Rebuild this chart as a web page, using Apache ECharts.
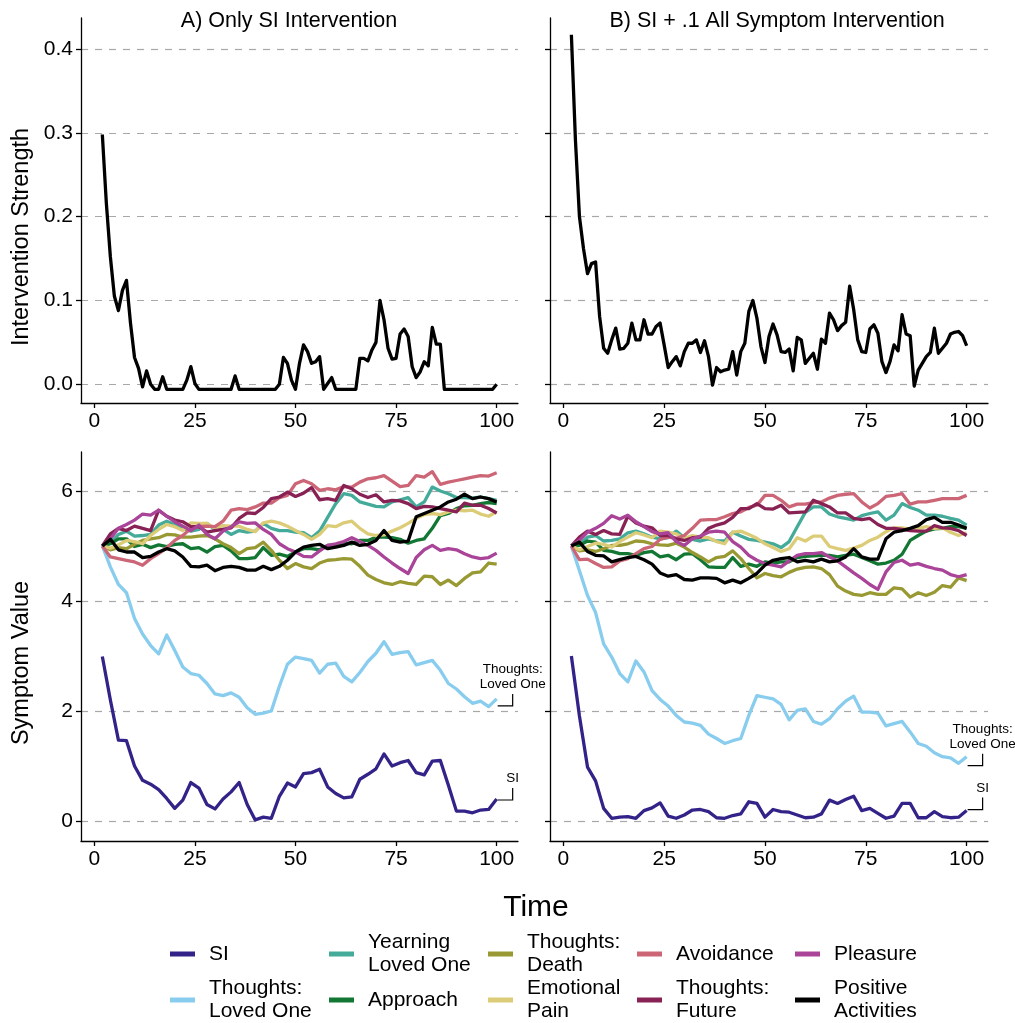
<!DOCTYPE html>
<html><head><meta charset="utf-8">
<script src="https://cdn.jsdelivr.net/npm/echarts@6/dist/echarts.min.js"></script>
<style>html,body{margin:0;padding:0;background:#fff}#c{width:1015px;height:1023px}</style>
</head><body><div id="c"></div>
<script>
// ---------- data ----------
const TIME_FULL = [2,3,4,5,6,7,8,9,10,11,12,13,14,15,16,17,18,19,20,21,22,23,24,25,26,27,28,29,30,31,32,33,34,35,36,37,38,39,40,41,42,43,44,45,46,47,48,49,50,51,52,53,54,55,56,57,58,59,60,61,62,63,64,65,66,67,68,69,70,71,72,73,74,75,76,77,78,79,80,81,82,83,84,85,86,87,88,89,90,91,92,93,94,95,96,97,98,99,100];
const TIME_EVEN = [2,4,6,8,10,12,14,16,18,20,22,24,26,28,30,32,34,36,38,40,42,44,46,48,50,52,54,56,58,60,62,64,66,68,70,72,74,76,78,80,82,84,86,88,90,92,94,96,98,100];
const X_TICKS = [0,25,50,75,100];
const Y_TICKS_TOP = [0,0.1,0.2,0.3,0.4];
const Y_TICKS_BOTTOM = [0,2,4,6];

const INTERVENTION_A = [0.298,0.216,0.152,0.105,0.088,0.112,0.124,0.073,0.032,0.019,
-0.003,0.016,0.000,-0.006,-0.006,0.009,-0.006,-0.006,-0.006,-0.006,
-0.006,0.005,0.021,0.001,-0.006,-0.006,-0.006,-0.006,-0.006,-0.006,
-0.006,-0.006,-0.006,0.010,-0.006,-0.006,-0.006,-0.006,-0.006,-0.006,
-0.006,-0.006,-0.006,-0.006,0.000,0.032,0.025,0.005,-0.006,0.025,
0.047,0.039,0.025,0.027,0.033,-0.006,0.001,0.008,-0.006,-0.006,
-0.006,-0.006,-0.006,-0.006,0.031,0.031,0.028,0.041,0.050,0.100,
0.077,0.043,0.030,0.031,0.060,0.066,0.057,0.021,0.008,0.015,
0.027,0.022,0.068,0.048,0.048,-0.006,-0.006,-0.006,-0.006,-0.006,
-0.006,-0.006,-0.006,-0.006,-0.006,-0.006,-0.006,-0.006,0.000];
const INTERVENTION_B = [0.417,0.292,0.200,0.162,0.132,0.144,0.146,0.081,0.043,0.037,
0.053,0.067,0.042,0.043,0.049,0.073,0.053,0.053,0.077,0.060,
0.060,0.069,0.073,0.047,0.020,0.027,0.033,0.022,0.039,0.049,
0.049,0.053,0.038,0.052,0.033,-0.001,0.020,0.015,0.017,0.018,
0.039,0.011,0.039,0.049,0.087,0.100,0.079,0.045,0.026,0.057,
0.072,0.059,0.039,0.038,0.042,0.016,0.056,0.053,0.025,0.031,
0.037,0.018,0.054,0.049,0.085,0.077,0.064,0.070,0.074,0.117,
0.089,0.053,0.039,0.038,0.066,0.071,0.061,0.027,0.014,0.027,
0.047,0.040,0.083,0.060,0.058,-0.002,0.017,0.025,0.033,0.038,
0.067,0.037,0.043,0.049,0.060,0.062,0.063,0.058,0.046];

const SI_A = [2.99,2.20,1.47,1.46,1.00,0.74,0.67,0.57,0.41,0.23,0.38,0.70,0.60,0.30,0.22,0.40,0.53,0.70,0.30,0.02,0.07,0.05,0.45,0.69,0.62,0.86,0.88,0.94,0.62,0.50,0.42,0.44,0.76,0.85,0.95,1.22,1.00,1.06,1.10,0.88,0.84,1.09,1.10,0.65,0.18,0.18,0.15,0.20,0.21,0.40];
const TLO_A = [5.00,4.62,4.30,4.15,3.68,3.40,3.19,3.04,3.38,3.10,2.80,2.68,2.65,2.50,2.31,2.28,2.33,2.25,2.06,1.94,1.96,2.00,2.45,2.85,2.98,2.95,2.92,2.69,2.85,2.87,2.63,2.53,2.70,2.90,3.05,3.26,3.03,3.06,3.08,2.84,2.88,2.92,2.74,2.50,2.40,2.26,2.14,2.18,2.08,2.22];
const YEARN_A = [5.00,5.05,5.21,5.27,5.18,5.19,5.21,5.38,5.45,5.39,5.32,5.27,5.30,5.41,5.30,5.30,5.21,5.28,5.25,5.27,5.41,5.32,5.28,5.28,5.25,5.24,5.15,5.27,5.52,5.77,5.95,5.92,5.80,5.76,5.72,5.71,5.80,5.84,5.88,5.71,5.80,6.07,6.00,5.95,5.88,5.88,5.87,5.89,5.86,5.83];
const APPROACH_A = [5.00,5.04,5.13,5.13,4.99,5.03,4.97,5.02,4.99,5.03,5.04,4.95,4.97,4.89,4.99,5.01,4.91,4.77,4.77,4.79,4.97,4.83,4.85,4.81,4.89,4.95,4.95,4.93,5.01,5.02,5.05,5.04,5.10,5.10,5.16,5.16,5.15,5.12,5.05,5.10,5.13,5.32,5.55,5.59,5.68,5.73,5.74,5.77,5.79,5.77];
const DEATH_A = [5.00,4.93,4.97,4.95,5.03,5.10,5.13,5.15,5.21,5.20,5.16,5.16,5.18,5.19,5.13,5.04,4.97,4.86,4.95,4.97,5.07,4.92,4.74,4.59,4.68,4.62,4.59,4.69,4.74,4.75,4.77,4.76,4.63,4.47,4.39,4.33,4.30,4.35,4.32,4.30,4.45,4.44,4.30,4.38,4.28,4.41,4.51,4.53,4.69,4.67];
const PAIN_A = [5.00,4.96,5.02,5.10,5.08,5.04,5.19,5.30,5.39,5.35,5.28,5.42,5.41,5.41,5.32,5.37,5.36,5.36,5.30,5.26,5.42,5.45,5.42,5.36,5.28,5.21,5.12,5.21,5.37,5.35,5.42,5.45,5.32,5.22,5.19,5.20,5.27,5.33,5.41,5.50,5.57,5.59,5.57,5.62,5.65,5.64,5.65,5.58,5.54,5.62];
const AVOID_A = [5.00,4.80,4.77,4.74,4.71,4.65,4.77,4.86,4.97,5.10,5.19,5.32,5.35,5.36,5.35,5.45,5.65,5.68,5.66,5.71,5.78,5.78,5.88,5.92,6.13,6.19,6.13,6.01,6.04,6.02,6.08,6.07,6.16,6.22,6.24,6.28,6.18,6.08,6.10,6.28,6.25,6.35,6.12,6.16,6.19,6.22,6.25,6.28,6.27,6.33];
const FUTURE_A = [5.00,5.22,5.32,5.28,5.36,5.32,5.28,5.65,5.54,5.47,5.44,5.35,5.35,5.25,5.28,5.30,5.33,5.50,5.60,5.59,5.70,5.86,5.89,5.98,5.90,5.96,6.06,5.84,5.86,5.83,6.10,6.04,5.94,5.88,5.93,5.80,5.83,5.82,5.77,5.68,5.72,5.71,5.68,5.65,5.62,5.78,5.74,5.74,5.68,5.60];
const PLEASURE_A = [5.00,5.13,5.32,5.39,5.47,5.58,5.56,5.65,5.54,5.44,5.36,5.28,5.38,5.21,5.13,5.27,5.35,5.44,5.41,5.42,5.30,5.21,5.04,4.95,4.89,4.81,4.80,4.91,5.01,5.04,5.08,5.15,5.08,5.01,4.92,4.80,4.69,4.59,4.50,4.79,4.93,5.01,4.92,4.95,4.93,4.86,4.80,4.77,4.79,4.87];
const POSITIVE_A = [5.00,5.12,4.93,4.89,4.89,4.79,4.81,4.89,4.95,4.91,4.80,4.63,4.62,4.65,4.55,4.61,4.63,4.61,4.56,4.56,4.63,4.57,4.63,4.74,4.89,4.98,5.01,5.03,4.95,4.98,5.01,5.07,5.01,5.03,5.10,5.28,5.10,5.07,5.09,5.53,5.59,5.65,5.71,5.80,5.85,5.94,5.86,5.89,5.86,5.80];

const SI_B = [3.00,1.91,0.98,0.73,0.23,0.05,0.07,0.08,0.05,0.19,0.24,0.33,0.09,0.05,0.11,0.20,0.21,0.17,0.06,0.05,0.10,0.13,0.35,0.32,0.07,0.21,0.17,0.16,0.11,0.06,0.07,0.13,0.38,0.32,0.39,0.45,0.19,0.23,0.14,0.05,0.09,0.32,0.32,0.06,0.06,0.17,0.08,0.06,0.07,0.19];
const TLO_B = [5.00,4.55,4.10,3.79,3.22,2.98,2.68,2.53,2.91,2.71,2.37,2.21,2.09,1.92,1.80,1.78,1.74,1.58,1.50,1.41,1.46,1.50,1.92,2.28,2.25,2.22,2.12,1.84,2.01,2.04,1.81,1.76,1.86,2.04,2.18,2.27,1.98,1.98,1.96,1.73,1.77,1.81,1.62,1.41,1.36,1.24,1.17,1.15,1.05,1.17];
const YEARN_B = [5.00,5.03,5.16,5.19,5.09,5.10,5.13,5.24,5.27,5.22,5.16,5.13,5.15,5.27,5.15,5.12,5.09,5.13,5.09,5.09,5.25,5.18,5.12,5.10,5.07,5.04,4.97,5.08,5.35,5.61,5.71,5.71,5.58,5.53,5.50,5.47,5.55,5.59,5.62,5.47,5.56,5.77,5.70,5.65,5.56,5.56,5.54,5.50,5.47,5.38];
const APPROACH_B = [5.00,5.01,5.09,5.07,4.92,4.90,4.86,4.86,4.83,4.88,4.90,4.80,4.83,4.75,4.85,4.86,4.75,4.62,4.61,4.61,4.79,4.63,4.67,4.63,4.71,4.69,4.71,4.71,4.79,4.81,4.82,4.83,4.83,4.80,4.83,4.85,4.79,4.73,4.67,4.69,4.74,4.85,5.10,5.19,5.27,5.31,5.32,5.35,5.35,5.32];
const DEATH_B = [5.00,4.91,4.93,4.90,4.95,5.01,5.01,5.04,5.09,5.08,5.04,5.02,5.01,5.05,4.98,4.88,4.80,4.71,4.79,4.81,4.91,4.77,4.59,4.42,4.50,4.46,4.44,4.52,4.58,4.61,4.62,4.59,4.48,4.27,4.18,4.12,4.10,4.15,4.12,4.12,4.24,4.22,4.07,4.15,4.10,4.16,4.28,4.25,4.42,4.37];
const PAIN_B = [5.00,4.93,4.99,5.05,5.03,4.98,5.08,5.16,5.24,5.20,5.15,5.27,5.25,5.22,5.14,5.19,5.16,5.15,5.08,5.04,5.25,5.27,5.21,5.14,5.04,4.97,4.90,4.95,5.15,5.09,5.18,5.18,4.99,4.95,4.92,4.96,5.01,5.10,5.16,5.26,5.33,5.33,5.30,5.32,5.35,5.32,5.33,5.25,5.19,5.24];
const AVOID_B = [5.00,4.75,4.76,4.68,4.61,4.62,4.73,4.77,4.86,4.95,4.99,5.12,5.16,5.14,5.19,5.32,5.47,5.48,5.48,5.53,5.59,5.62,5.70,5.74,5.92,5.92,5.83,5.71,5.76,5.76,5.79,5.80,5.87,5.92,5.94,5.95,5.80,5.69,5.77,5.90,5.92,5.95,5.76,5.80,5.80,5.83,5.86,5.86,5.86,5.92];
const FUTURE_B = [5.00,5.16,5.27,5.21,5.28,5.22,5.21,5.54,5.42,5.36,5.33,5.19,5.19,5.13,5.10,5.15,5.16,5.32,5.38,5.42,5.52,5.68,5.68,5.77,5.68,5.67,5.74,5.60,5.61,5.62,5.83,5.77,5.71,5.60,5.60,5.50,5.48,5.50,5.39,5.32,5.32,5.30,5.28,5.27,5.27,5.37,5.33,5.32,5.28,5.19];
const PLEASURE_B = [5.00,5.10,5.25,5.32,5.41,5.55,5.49,5.56,5.44,5.35,5.26,5.22,5.24,5.08,5.01,5.13,5.18,5.25,5.27,5.25,5.08,4.98,4.83,4.74,4.68,4.65,4.62,4.73,4.83,4.86,4.86,4.88,4.80,4.73,4.62,4.51,4.41,4.30,4.21,4.53,4.70,4.74,4.65,4.68,4.63,4.59,4.56,4.48,4.44,4.48];
const POSITIVE_B = [5.00,5.07,4.90,4.83,4.82,4.71,4.75,4.79,4.81,4.75,4.67,4.51,4.45,4.48,4.39,4.38,4.42,4.42,4.41,4.33,4.38,4.33,4.41,4.50,4.65,4.74,4.77,4.79,4.71,4.74,4.71,4.76,4.71,4.73,4.80,4.95,4.80,4.76,4.76,5.13,5.25,5.28,5.32,5.37,5.48,5.52,5.43,5.43,5.38,5.32];

const SYMPTOM_NAMES = ['SI','Thoughts:\nLoved One','Yearning\nLoved One','Approach','Thoughts:\nDeath','Emotional\nPain','Avoidance','Thoughts:\nFuture','Pleasure','Positive\nActivities'];
const SYMPTOM_COLORS = ['#332288','#88CCEE','#44AA99','#117733','#999933','#DDCC77','#CC6677','#882255','#AA4499','#000000'];
const PANEL_A = [SI_A,TLO_A,YEARN_A,APPROACH_A,DEATH_A,PAIN_A,AVOID_A,FUTURE_A,PLEASURE_A,POSITIVE_A];
const PANEL_B = [SI_B,TLO_B,YEARN_B,APPROACH_B,DEATH_B,PAIN_B,AVOID_B,FUTURE_B,PLEASURE_B,POSITIVE_B];
const PANEL_TITLES = ['A) Only SI Intervention','B) SI + .1 All Symptom Intervention'];

// ---------- chart ----------
const FONT = "'Liberation Sans', Arial, Helvetica, sans-serif";
const chart = echarts.init(document.getElementById('c'), null, {renderer:'canvas'});

const GRIDS = [
  {left:81, top:18, width:437, height:385},
  {left:550, top:18, width:438, height:385},
  {left:81, top:452, width:437, height:389},
  {left:550, top:452, width:438, height:389}
];
function xAxis(i){
  return {type:'value', gridIndex:i, min:-3.3, max:105.3,
    axisLine:{show:true, onZero:false, lineStyle:{color:'#000', width:1.3}},
    axisTick:{show:true, length:5, lineStyle:{color:'#000', width:1.3}, customValues:X_TICKS},
    axisLabel:{show:true, color:'#000', fontSize:21, fontFamily:FONT, margin:8, customValues:X_TICKS},
    splitLine:{show:false}};
}
function yAxis(i){
  const top = i < 2;
  const ticks = top ? Y_TICKS_TOP : Y_TICKS_BOTTOM;
  return {type:'value', gridIndex:i,
    min: top ? -0.0223 : -0.363, max: top ? 0.437 : 6.708,
    axisLine:{show:true, onZero:false, lineStyle:{color:'#000', width:1.3}},
    axisTick:{show:true, length:5, lineStyle:{color:'#000', width:1.3}, customValues:ticks},
    axisLabel:{show: i % 2 === 0, color:'#000', fontSize:21, fontFamily:FONT, margin:8, customValues:ticks,
      formatter: v => top ? Number(v).toFixed(1) : String(Math.round(v))},
    splitLine:{show:true, lineStyle:{color:'#a8a8a8', width:1.2, type:[7,7]}}};
}

const series = [];
[INTERVENTION_A, INTERVENTION_B].forEach((arr, i) => {
  series.push({type:'line', name:'Intervention '+(i?'B':'A'), xAxisIndex:i, yAxisIndex:i,
    data: TIME_FULL.map((t,k)=>[t, arr[k]]), symbol:'none', showSymbol:false,
    lineStyle:{color:'#000', width:3.3, join:'round'}, itemStyle:{color:'#000'}, z:3});
});
[PANEL_A, PANEL_B].forEach((panel, p) => {
  panel.forEach((arr, s) => {
    series.push({type:'line', name:SYMPTOM_NAMES[s], xAxisIndex:2+p, yAxisIndex:2+p,
      data: TIME_EVEN.map((t,k)=>[t, arr[k]]), symbol:'none', showSymbol:false,
      lineStyle:{color:SYMPTOM_COLORS[s], width:3.3, join:'round'}, itemStyle:{color:SYMPTOM_COLORS[s]}, z:3});
  });
});

// legend: 5 columns x 2 rows, column-major order
const LEG_X = [170, 329, 488, 637, 795];
const LEG_Y = [954, 1000];
const legends = SYMPTOM_NAMES.map((name, s) => {
  const col = Math.floor(s / 2), row = s % 2;
  const lines = name.split('\n').length;
  return {data:[name], left:LEG_X[col], top: LEG_Y[row] - lines*11.5, orient:'horizontal',
    icon:'rect', itemWidth:25, itemHeight:5, itemGap:0, padding:0, selectedMode:false,
    textStyle:{fontSize:21, color:'#000', fontFamily:FONT, lineHeight:23, padding:[0,0,0,9]}};
});

chart.setOption({
  animation:false,
  backgroundColor:'#fff',
  grid: GRIDS.map(g => Object.assign({containLabel:false, outerBoundsMode:'none'}, g)),
  xAxis: [0,1,2,3].map(xAxis),
  yAxis: [0,1,2,3].map(yAxis),
  legend: legends,
  series: series
});

// text, titles and end-of-line annotations
const graphics = [];
function txt(text, x, y, size, opts){
  return Object.assign({type:'text', x:x, y:y, silent:true,
    style:{text:text, fill:'#000', font: size+'px '+FONT, textAlign:'center', textVerticalAlign:'middle'}}, opts||{});
}
graphics.push(txt(PANEL_TITLES[0], 289, 21, 21.5));
graphics.push(txt(PANEL_TITLES[1], 777, 21, 21.5));
graphics.push(txt('Time', 536, 908, 30));
graphics.push(txt('Intervention Strength', 22, 237, 23.5, {rotation:Math.PI/2}));
graphics.push(txt('Symptom Value', 22, 663, 23.5, {rotation:Math.PI/2}));

function annotate(gridIndex, value, label, dy){
  const p = chart.convertToPixel({gridIndex:gridIndex}, [TIME_EVEN[TIME_EVEN.length-1], value]);
  const x0 = p[0] + 1, y0 = p[1] + dy, x1 = p[0] + 16;
  graphics.push({type:'polyline', silent:true, shape:{points:[[x0,y0],[x1,y0],[x1,y0-12]]},
    style:{stroke:'#000', lineWidth:1.2, fill:null}});
  graphics.push({type:'text', silent:true, x:x1, y:y0-14,
    style:{text:label, fill:'#000', font:'13.5px '+FONT, textAlign:'center', textVerticalAlign:'bottom', lineHeight:15}});
}
annotate(2, TLO_A[TLO_A.length-1], 'Thoughts:\nLoved One', 7);
annotate(2, SI_A[SI_A.length-1], 'SI', 1);
annotate(3, TLO_B[TLO_B.length-1], 'Thoughts:\nLoved One', 9);
annotate(3, SI_B[SI_B.length-1], 'SI', -1);

chart.setOption({graphic: graphics});
</script>
</body></html>
